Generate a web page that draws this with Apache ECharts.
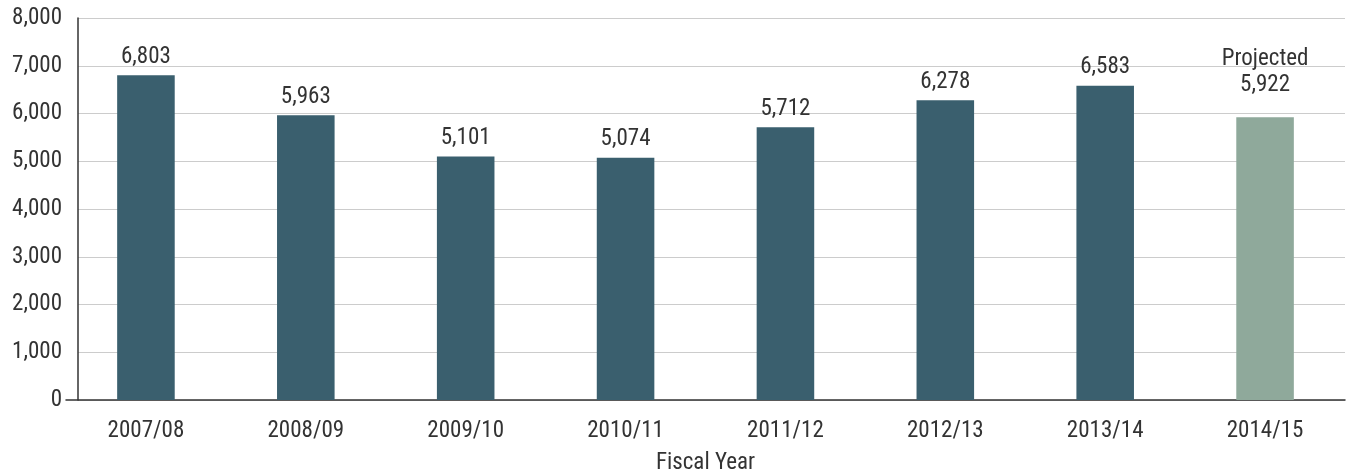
<!DOCTYPE html>
<html><head><meta charset="utf-8">
<script src="https://cdn.jsdelivr.net/npm/echarts@6/dist/echarts.min.js"></script>
<style>html,body{margin:0;padding:0;background:#fff}#c{width:1347px;height:472px}</style>
</head><body><div id="c"></div>
<script>
const categories = ['2007/08','2008/09','2009/10','2010/11','2011/12','2012/13','2013/14','2014/15'];
const values = [6803, 5963, 5101, 5074, 5712, 6278, 6583, 5922];
const projectedIndex = 7;
const yTicks = [0,1000,2000,3000,4000,5000,6000,7000,8000];
const FONT = '"Liberation Sans Narrow", "Roboto Condensed", Roboto, sans-serif';
const FS = 23;
const chart = echarts.init(document.getElementById('c'), null, {renderer:'canvas'});
const fmt = v => v.toLocaleString('en-US');
const yMin = yTicks[0], yMax = yTicks[yTicks.length-1];
chart.setOption({
  animation:false,
  grid:[
    {left:78,right:2,top:18,bottom:72,containLabel:false,outerBoundsMode:'none'},
    {left:66,right:2,top:18,bottom:72,containLabel:false,outerBoundsMode:'none'}
  ],
  xAxis:[
    {gridIndex:0,type:'category',data:categories,show:false},
    {gridIndex:1,type:'category',data:categories,name:'Fiscal Year',nameLocation:'middle',nameGap:52,
      nameTextStyle:{fontFamily:FONT,fontSize:FS,color:'#333'},
      axisLine:{lineStyle:{color:'#333',width:1.5}},axisTick:{show:false},
      axisLabel:{fontFamily:FONT,fontSize:FS,color:'#333',margin:20}}
  ],
  yAxis:[
    {gridIndex:0,type:'value',min:yMin,max:yMax,interval:1000,
      axisLine:{show:true,lineStyle:{color:'#333',width:1.5}},axisTick:{show:false},
      splitLine:{lineStyle:{color:'#cccccc',width:1.2}},
      axisLabel:{fontFamily:FONT,fontSize:FS,color:'#333',margin:16,formatter:v=>fmt(v)}},
    {gridIndex:1,type:'value',min:yMin,max:yMax,interval:1000,show:false,splitLine:{show:false}}
  ],
  series:[{type:'bar',xAxisIndex:1,yAxisIndex:1,barWidth:'36%',
    data:values.map((v,i)=>({value:v,itemStyle:{color:i===projectedIndex?'#8fa99b':'#3a5f6e'},
      label:i===projectedIndex?{formatter:'Projected\n'+fmt(v),distance:19}:{formatter:fmt(v)}})),
    label:{show:true,position:'top',distance:5,fontFamily:FONT,fontSize:FS,color:'#333',lineHeight:26}}]
});
</script></body></html>
